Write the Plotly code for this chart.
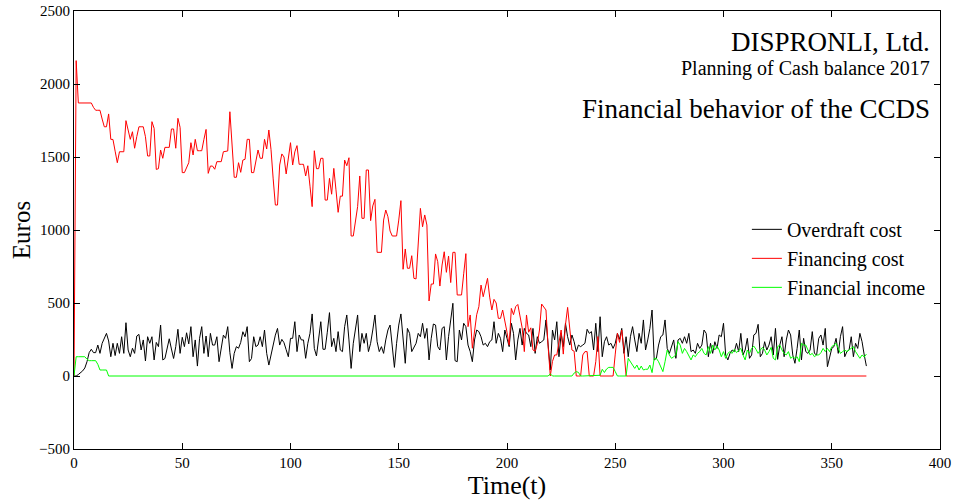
import plotly.graph_objects as go

# Time axis (days)
days = list(range(0, 367))

# Overdraft cost (black)
overdraft_cost = [
    0, 0, 10, 20, 35, 55, 98, 160, 183, 160,
    160, 212, 155, 224, 258, 292, 240, 132, 224, 140,
    224, 155, 269, 155, 365, 178, 132, 190, 155, 274,
    285, 178, 247, 103, 269, 224, 269, 110, 230, 201,
    349, 110, 120, 178, 255, 185, 120, 201, 320, 155,
    265, 201, 296, 220, 338, 132, 247, 68, 258, 338,
    155, 274, 132, 292, 212, 212, 269, 98, 190, 280,
    258, 338, 160, 52, 155, 201, 190, 230, 303, 269,
    338, 98, 120, 269, 201, 212, 269, 201, 315, 155,
    75, 150, 224, 280, 326, 212, 251, 228, 180, 132,
    258, 258, 372, 167, 281, 247, 247, 121, 224, 292,
    425, 189, 137, 269, 372, 183, 183, 300, 434, 201,
    258, 167, 304, 178, 167, 338, 418, 247, 52, 224,
    315, 418, 167, 292, 224, 292, 167, 224, 315, 418,
    235, 167, 201, 155, 247, 315, 349, 224, 59, 224,
    349, 425, 224, 87, 326, 292, 167, 201, 224, 292,
    269, 361, 258, 326, 110, 258, 356, 349, 201, 178,
    326, 338, 110, 269, 372, 498, 105, 98, 315, 247,
    361, 338, 212,
    167, 98, 247, 315, 304, 269, 212, 224, 201, 235,
    247, 372, 224, 292, 258, 167, 315, 258, 201, 361,
    292, 110, 247, 326, 212, 326, 292, 281, 201, 326,
    155, 269, 224, 235, 247, 384, 189, 41, 315, 247,
    372, 132, 292, 201, 361, 269, 212, 281, 235, 167,
    212, 201, 212, 224, 320, 292, 304, 178, 361, 167,
    406, 132, 235, 269, 212, 224, 189, 224, 292, 251,
    326, 155, 269, 132, 269, 338, 247, 167, 292, 224,
    384, 178, 247, 326, 452, 110, 121, 212, 269, 281,
    384, 189, 155,
    201, 247, 121, 247, 258, 224, 269, 224, 292, 167,
    178, 155, 224, 189, 212, 315, 292, 132, 224, 155,
    235, 189, 281, 269, 361, 144, 110, 155, 178, 167,
    224, 167, 292, 144, 178, 258, 121, 144, 281, 292,
    354, 132, 155, 235, 178, 212, 269, 144, 326, 114,
    212, 269, 132, 247, 315, 281, 144, 87, 189, 315,
    110, 258, 167, 155, 178, 304, 155, 144, 258, 281,
    212, 326, 64, 132, 189, 201, 258, 155, 269, 338,
    132, 167, 178, 269, 132, 224, 189, 292, 235, 144,
    68,
]

# Financing cost (red)
financing_cost = [
    0, 2160, 1870, 1870, 1870, 1870, 1870, 1870, 1870, 1840,
    1820, 1820, 1820, 1760, 1707, 1707, 1795, 1621, 1620, 1540,
    1461, 1536, 1536, 1536, 1749, 1680, 1621, 1673, 1560, 1640,
    1707, 1707, 1707, 1639, 1507, 1507, 1742, 1696, 1415, 1420,
    1548, 1491, 1566, 1566, 1566, 1692, 1692, 1560, 1765, 1703,
    1393, 1393, 1430, 1461, 1598, 1514, 1621, 1543, 1543, 1543,
    1620, 1689, 1388, 1438, 1438, 1416, 1468, 1468, 1468, 1536,
    1540, 1541, 1810, 1580, 1361, 1361, 1461, 1395, 1479, 1484,
    1621, 1621, 1393, 1393, 1470, 1548, 1491, 1491, 1621, 1555,
    1685, 1550, 1350, 1171, 1171, 1445, 1521, 1500, 1384, 1510,
    1598, 1445, 1535, 1578, 1450, 1450, 1450, 1370, 1440, 1300,
    1160, 1543, 1420, 1420, 1491, 1491, 1205, 1205, 1354, 1245,
    1422, 1275, 1121, 1232, 1232, 1479, 1440, 1495, 959, 959,
    1068, 1160, 1370, 1080, 1080, 1411, 1411, 1064, 1165, 1210,
    847, 847, 847, 1068, 1137, 1091, 993, 959, 959, 959,
    1068, 1201, 731, 870, 738, 738, 824, 669, 665, 909,
    1148, 1022, 1103, 1034, 514, 630, 630, 836, 783, 616,
    760, 851, 710, 822, 640, 847, 847, 555, 555, 555,
    700, 838, 338, 418, 190, 300, 420, 475, 623, 543,
    600, 669, 540, 452, 525, 500, 395, 395, 452, 384,
    300, 212, 463, 420, 475, 490, 418, 330, 167, 418,
    300, 330, 178, 170, 220, 315, 493, 470, 452, 200,
    0, 100, 144, 144, 230, 315, 150, 350, 470, 300,
    178, 170, 0, 0, 0, 144, 167, 167, 0, 0,
    0, 98, 270, 0, 0, 0, 0, 0, 0, 0,
    150, 292, 230, 315, 180,
] + [0] * 112

# Financial income (green)
financial_income = [
    0, 132, 132, 132, 132, 132, 115, 105, 105, 105,
    105, 80, 41, 41, 41, 41,
] + [0] * 204 + [
    15, 0, 0, 0, 0, 0, 0, 0, 0, 0,
    0, 20, 30, 25, 0, 0, 0, 0, 0, 0,
    0, 0, 0, 5, 46, 24, 48, 59, 59, 59,
    30, 0, 0, 0, 0, 0, 121, 98, 75, 52,
    75, 41, 68, 41, 46, 46, 75, 23, 121, 121,
    98, 68, 30, 98, 178, 144,
    121, 132, 144, 235, 212, 155, 189, 167, 132, 110,
    144, 132, 155, 167, 189, 155, 144, 201, 155, 212,
    178, 205, 178, 132, 167, 121, 155, 167, 155, 183,
    160, 178, 189, 144, 110, 178, 155, 189, 205, 183,
    155, 178, 196, 178, 144, 167, 196, 121, 110, 201,
    212, 178, 155, 144, 167, 121, 132, 121, 132, 98,
    224, 212, 212, 178, 144, 155, 132, 144, 144, 160,
    189, 167, 189, 167, 201, 212, 224, 189, 155, 167,
    178, 167, 178, 189, 201, 167, 144, 121, 144, 130,
    150,
]

x_ticks = [0, 50, 100, 150, 200, 250, 300, 350, 400]
y_ticks = [-500, 0, 500, 1000, 1500, 2000, 2500]

FONT = "Liberation Serif, Times New Roman, serif"

fig = go.Figure()
fig.add_trace(go.Scatter(x=days, y=overdraft_cost, mode="lines", name="Overdraft cost",
                         line=dict(color="#000000", width=1)))
fig.add_trace(go.Scatter(x=days, y=financing_cost, mode="lines", name="Financing cost",
                         line=dict(color="#ff0000", width=1)))
fig.add_trace(go.Scatter(x=days, y=financial_income, mode="lines", name="Financial income",
                         line=dict(color="#00ff00", width=1)))

axis_style = dict(
    showline=True, linecolor="black", linewidth=1, mirror="ticks",
    ticks="inside", ticklen=6, tickcolor="black", showgrid=False, zeroline=False,
    automargin=False,
    tickfont=dict(family=FONT, size=15, color="black"),
)

fig.update_xaxes(range=[0, 400], tickvals=x_ticks,
                 title=dict(text="Time(t)", font=dict(family=FONT, size=26, color="black"), standoff=4),
                 **axis_style)
fig.update_yaxes(range=[-500, 2500], tickvals=y_ticks,
                 title=dict(text="Euros", font=dict(family=FONT, size=25, color="black"), standoff=1),
                 **axis_style)

annotations = [
    ("DISPRONLI, Ltd.", 27, 0.929),
    ("Planning of Cash balance 2017", 20, 0.868),
    ("Financial behavior of the CCDS", 27, 0.776),
]
for text, size, ypos in annotations:
    fig.add_annotation(text=text, xref="paper", yref="paper", x=0.991, y=ypos,
                       xanchor="right", yanchor="middle", showarrow=False,
                       font=dict(family=FONT, size=size, color="black"))

fig.update_layout(
    width=958, height=502,
    margin=dict(l=74, r=18, t=11, b=53),
    plot_bgcolor="white", paper_bgcolor="white",
    font=dict(family=FONT, color="black"),
    showlegend=True,
    legend=dict(x=0.777, y=0.546, xanchor="left", yanchor="top",
                bgcolor="rgba(0,0,0,0)", borderwidth=0,
                font=dict(family=FONT, size=20, color="black"),
                tracegroupgap=0),
)

fig.write_html("out.html")
